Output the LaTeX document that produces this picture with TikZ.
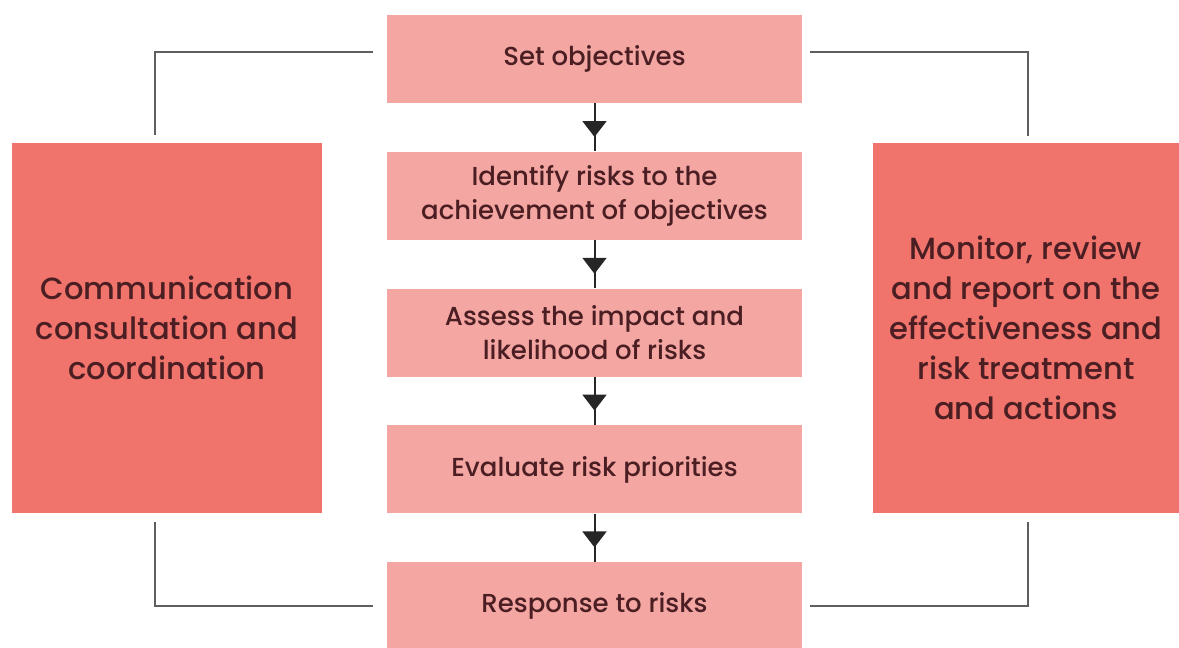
\documentclass[tikz,border=0pt]{standalone}
\usepackage{fontspec}
\setmainfont{Poppins}[UprightFont={* Medium}]
\usetikzlibrary{positioning,arrows.meta,decorations.markings}
\definecolor{stepfill}{HTML}{F4A6A2}
\definecolor{sidefill}{HTML}{F0736C}
\definecolor{textred}{HTML}{4A1E22}
\definecolor{linegray}{HTML}{5F5F5F}

\begin{document}
\begin{tikzpicture}[x=0.5pt,y=-0.5pt,node distance=24pt,
                    step node/.style={rectangle,fill=stepfill,text=textred,inner sep=0pt,
                      minimum width=207.5pt,minimum height=44pt,align=center,
                      font=\fontsize{13}{17}\selectfont},
                    side node/.style={rectangle,fill=sidefill,text=textred,inner sep=0pt,
                      minimum height=185pt,align=center,font=\fontsize{15.3}{20}\selectfont},
                    flow/.style={black!85,line width=1pt,postaction={decorate},
                      decoration={markings,mark=at position 0.7 with {\arrow{Triangle[width=12pt,length=8pt]}}}},
                    loop line/.style={draw=linegray,line width=1pt}]
\useasboundingbox (0,0) rectangle (1179,648);
\node[step node] (set) at (594.5,59) {Set objectives};
\node[step node] (identify) [below=of set] {Identify risks to the\\achievement of objectives};
\node[step node] (assess) [below=of identify] {Assess the impact and\\likelihood of risks};
\node[step node] (evaluate) [below=of assess] {Evaluate risk priorities};
\node[step node] (response) [below=of evaluate] {Response to risks};
\node[side node,minimum width=155pt] (comm) at (167,328) {Communication\\consultation and\\coordination};
\node[side node,minimum width=153pt] (monitor) at (1026,328) {Monitor, review\\and report on the\\effectiveness and\\risk treatment\\and actions};

% main flow
\draw[flow] (set) -- (identify);
\draw[flow] (identify) -- (assess);
\draw[flow] (assess) -- (evaluate);
\draw[flow] (evaluate) -- (response);

% outer loop
\draw[loop line] ([xshift=-6pt,yshift=4pt]comm.north) |- ([xshift=-7pt,yshift=3.5pt]set.west);
\draw[loop line] ([xshift=4pt,yshift=3.5pt]set.east) -| ([xshift=1pt,yshift=3.5pt]monitor.north);
\draw[loop line] ([xshift=-6pt,yshift=-4.5pt]comm.south) |- ([xshift=-7pt]response.west);
\draw[loop line] ([xshift=4pt]response.east) -| ([xshift=1pt,yshift=-4.5pt]monitor.south);
\end{tikzpicture}
\end{document}
